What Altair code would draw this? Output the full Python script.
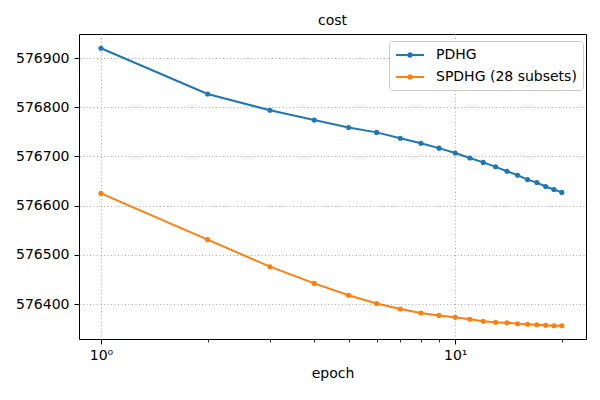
import altair as alt
import pandas as pd

epochs = list(range(1, 21))
pdhg = [576920, 576827, 576794, 576774, 576759, 576749, 576737, 576727, 576717, 576707,
        576697, 576688, 576679, 576670, 576662, 576653, 576647, 576639, 576633, 576627]
spdhg = [576625, 576531, 576476, 576442, 576418, 576401, 576390, 576382, 576377, 576373,
         576369, 576365, 576363, 576362, 576360, 576359, 576358, 576357, 576356, 576356]
series_names = ["PDHG", "SPDHG (28 subsets)"]
colors = ["#1f77b4", "#ff7f0e"]
y_ticks = [576400, 576500, 576600, 576700, 576800, 576900]
x_ticks = [1, 2, 3, 4, 5, 6, 7, 8, 9, 10, 20]

rows = []
for e, v in zip(epochs, pdhg):
    rows.append({"epoch": e, "cost": v, "series": series_names[0]})
for e, v in zip(epochs, spdhg):
    rows.append({"epoch": e, "cost": v, "series": series_names[1]})
df = pd.DataFrame(rows)

FONT = "DejaVu Sans"
major = "datum.value == 1 || datum.value == 10"

x_enc = alt.X(
    "epoch:Q",
    scale=alt.Scale(type="log", domain=[0.867, 23.4], nice=False, zero=False),
    axis=alt.Axis(
        values=x_ticks,
        title="epoch",
        labelExpr="datum.value == 1 ? '10⁰' : (datum.value == 10 ? '10¹' : '')",
        tickSize={"condition": {"test": major, "value": 5}, "value": 3},
        tickWidth={"condition": {"test": major, "value": 1.1}, "value": 0.8},
        gridOpacity={"condition": {"test": major, "value": 1}, "value": 0},
        labelPadding=4,
        titlePadding=4,
    ),
)
y_enc = alt.Y(
    "cost:Q",
    scale=alt.Scale(domain=[576329, 576949], nice=False, zero=False),
    axis=alt.Axis(values=y_ticks, format="d", title=None, tickSize=5, tickWidth=1.1, labelPadding=5),
)
color_scale = alt.Scale(domain=series_names, range=colors)

sym_path = ("M-1,0L3,0M1.25,0A0.25,0.25,0,1,1,0.75,0A0.25,0.25,0,1,1,1.25,0Z")

legend = alt.Legend(
    title=None, orient="none", legendX=310, legendY=7,
    symbolType=sym_path, symbolSize=196, symbolStrokeWidth=2,
    labelOffset=25, labelFontSize=14, labelFont=FONT, labelColor="black",
    rowPadding=7, padding=6, fillColor="white", strokeColor="#cccccc",
    cornerRadius=3, symbolOpacity=1,
)

points = alt.Chart(df).mark_point(filled=True, size=26, opacity=1).encode(
    x=x_enc, y=y_enc,
    color=alt.Color("series:N", scale=color_scale, legend=legend),
)
lines = alt.Chart(df).mark_line(strokeWidth=2).encode(
    x=x_enc, y=y_enc,
    color=alt.Color("series:N", scale=color_scale, legend=legend),
)

chart = alt.layer(lines, points).properties(
    width=507, height=305,
    background="white",
    title=alt.TitleParams("cost", fontSize=14, font=FONT, fontWeight="normal", color="black", offset=6),
    autosize=alt.AutoSizeParams(type="none"),
    padding={"left": 79, "top": 34, "right": 14, "bottom": 61},
).configure_view(
    stroke="black", strokeWidth=1
).configure_axis(
    labelFont=FONT, labelFontSize=14, labelColor="black",
    titleFont=FONT, titleFontSize=14, titleColor="black", titleFontWeight="normal",
    domain=False, tickColor="black",
    gridColor="#aaaaaa", gridDash=[1, 2.5], gridWidth=1,
)

chart.save("out.html", embed_options={"renderer": "svg", "actions": False})
